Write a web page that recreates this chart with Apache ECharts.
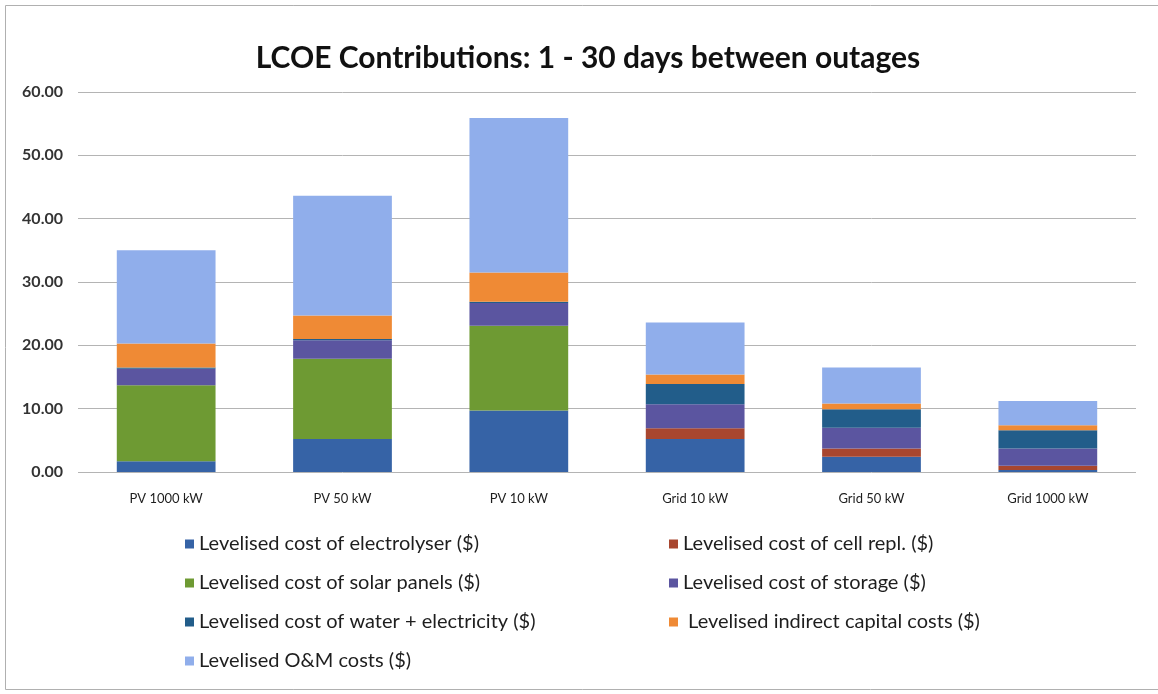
<!DOCTYPE html>
<html>
<head>
<meta charset="utf-8">
<script src="https://cdn.jsdelivr.net/npm/echarts@6/dist/echarts.min.js"></script>
<style>
  html, body { margin: 0; padding: 0; background: #fff; }
  #chart { width: 1158px; height: 694px; }
</style>
</head>
<body>
<div id="chart"></div>
<script>
// categories along x
const categories = ['PV 1000 kW', 'PV 50 kW', 'PV 10 kW', 'Grid 10 kW', 'Grid 50 kW', 'Grid 1000 kW'];

// stacked contributions, bottom to top
const electrolyser = [1.7, 5.2, 9.7, 5.2, 2.4, 0.3];
const cellRepl     = [0, 0, 0, 1.7, 1.3, 0.7];
const solarPanels  = [12.0, 12.7, 13.4, 0, 0, 0];
const storage      = [2.6, 2.9, 3.6, 3.8, 3.3, 2.7];
const waterElec    = [0.2, 0.2, 0.2, 3.2, 2.9, 2.9];
const indirectCap  = [3.8, 3.7, 4.6, 1.5, 0.9, 0.8];
const omCosts      = [14.7, 18.9, 24.4, 8.2, 5.7, 3.8];

const yTicks = [0, 10, 20, 30, 40, 50, 60];

const names = {
  elec: 'Levelised cost of electrolyser ($)',
  cell: 'Levelised cost of cell repl. ($)',
  solar: 'Levelised cost of solar panels ($)',
  storage: 'Levelised cost of storage ($)',
  water: 'Levelised cost of water + electricity ($)',
  indirect: ' Levelised indirect capital costs ($)',
  om: 'Levelised O&M costs ($)'
};

const chart = echarts.init(document.getElementById('chart'));

function bar(name, data, color) {
  return {
    name: name,
    type: 'bar',
    stack: 'lcoe',
    data: data,
    barWidth: '56%',
    itemStyle: { color: color },
    emphasis: { disabled: true }
  };
}

const legendText = { fontFamily: 'Lato', fontSize: 20, color: '#1e1e1e' };

chart.setOption({
  animation: false,
  backgroundColor: '#fff',
  textStyle: { fontFamily: 'Lato' },
  title: {
    text: 'LCOE Contributions: 1 - 30 days between outages',
    left: 583,
    textAlign: 'center',
    top: 38,
    textStyle: { fontFamily: 'Lato', fontWeight: 'bold', fontSize: 30, color: '#111' }
  },
  graphic: [{
    type: 'rect',
    shape: { x: 5.5, y: 5.5, width: 1200, height: 684 },
    style: { fill: 'none', stroke: '#b0b0b0', lineWidth: 1 },
    silent: true
  }],
  legend: [
    {
      left: 180,
      top: 529,
      orient: 'vertical',
      itemWidth: 9,
      itemHeight: 9,
      itemGap: 19,
      icon: 'rect',
      textStyle: legendText,
      data: [names.elec, names.solar, names.water, names.om]
    },
    {
      left: 664,
      top: 529,
      orient: 'vertical',
      itemWidth: 9,
      itemHeight: 9,
      itemGap: 19,
      icon: 'rect',
      textStyle: legendText,
      data: [names.cell, names.storage, names.indirect]
    }
  ],
  grid: { left: 78, right: 22, top: 92, bottom: 222, containLabel: false },
  xAxis: {
    type: 'category',
    data: categories,
    axisLine: { show: false },
    axisTick: { show: false },
    axisLabel: { fontFamily: 'Lato', fontSize: 13, color: '#1e1e1e', margin: 20 }
  },
  yAxis: {
    type: 'value',
    min: yTicks[0],
    max: yTicks[yTicks.length - 1],
    interval: 10,
    axisLine: { show: false },
    axisTick: { show: false },
    splitLine: { lineStyle: { color: '#b4b4b4', width: 1 } },
    axisLabel: {
      fontFamily: 'Lato', fontSize: 16, fontWeight: 'bold', color: '#333', margin: 15,
      formatter: v => v.toFixed(2)
    }
  },
  series: [
    bar(names.elec, electrolyser, '#3663a6'),
    bar(names.cell, cellRepl, '#a8462f'),
    bar(names.solar, solarPanels, '#6e9a33'),
    bar(names.storage, storage, '#5b55a0'),
    bar(names.water, waterElec, '#225d8a'),
    bar(names.indirect, indirectCap, '#ef8a35'),
    bar(names.om, omCosts, '#90aeeb')
  ]
});
</script>
</body>
</html>
